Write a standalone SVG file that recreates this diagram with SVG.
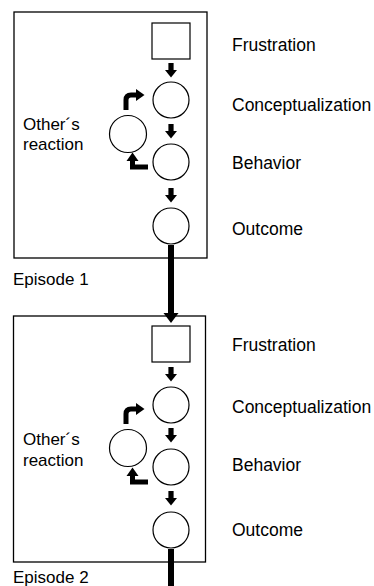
<svg xmlns="http://www.w3.org/2000/svg" width="374" height="586" viewBox="0 0 374 586">
<style>
.box{fill:#fff;stroke:#000;stroke-width:1.3}
.node{fill:#fff;stroke:#000;stroke-width:1.2}
.lbl{font-family:"Liberation Sans",Arial,sans-serif;font-size:17px;fill:#000}
.rl{font-size:17.5px}
.sh{fill:none;stroke:#000;stroke-width:5}
.hd{fill:#000}
.thick{fill:none;stroke:#000;stroke-width:6}
</style>
<defs>
<g id="down"><rect x="-2.6" y="0" width="5.2" height="8"/><polygon points="-6,7 6,7 0,14.5"/></g>
</defs>
<rect id="episode1-box" class="box" x="14" y="12" width="193" height="246"/>
<rect id="episode2-box" class="box" x="13.5" y="316" width="192" height="246"/>
<g id="connectors">
<line class="thick" x1="171" y1="245" x2="171" y2="314"/>
<polygon class="hd" points="163.5,313 178.5,313 171,323"/>
<line class="thick" x1="171" y1="549" x2="171" y2="586"/>
<use href="#down" x="171" y="63"/>
<use href="#down" x="171" y="124"/>
<use href="#down" x="171" y="188"/>
<path class="sh" d="M126,110 V100 Q126,95 131,95 H137"/>
<polygon class="hd" points="136,89 144.5,95 136,101"/>
<path class="sh" d="M148,167 H132.5 V160"/>
<polygon class="hd" points="126.5,161 132.5,152.5 138.5,161"/>
<use href="#down" x="171" y="367"/>
<use href="#down" x="171" y="428"/>
<use href="#down" x="171" y="491"/>
<path class="sh" d="M126,424 V414 Q126,409 131,409 H137"/>
<polygon class="hd" points="136,403 144.5,409 136,415"/>
<path class="sh" d="M148,482 H132.5 V475"/>
<polygon class="hd" points="126.5,476 132.5,467.5 138.5,476"/>
</g>
<g id="ep1-frustration"><rect class="node" x="152" y="23" width="38" height="36"/><text class="lbl rl" x="232" y="51">Frustration</text></g>
<g id="ep1-conceptualization"><circle class="node" cx="171" cy="100" r="18"/><text class="lbl rl" x="232" y="111">Conceptualization</text></g>
<g id="ep1-behavior"><circle class="node" cx="171" cy="162" r="18"/><text class="lbl rl" x="232" y="169">Behavior</text></g>
<g id="ep1-outcome"><circle class="node" cx="171" cy="226" r="18"/><text class="lbl rl" x="232" y="235">Outcome</text></g>
<g id="ep1-other"><circle class="node" cx="128" cy="134" r="18.5"/><text class="lbl" x="23" y="130">Other´s</text><text class="lbl" x="23" y="150">reaction</text></g>
<g id="ep1-label"><text class="lbl" x="13" y="285">Episode 1</text></g>
<g id="ep2-frustration"><rect class="node" x="152" y="326" width="38" height="36"/><text class="lbl rl" x="232" y="351">Frustration</text></g>
<g id="ep2-conceptualization"><circle class="node" cx="171" cy="405" r="18"/><text class="lbl rl" x="232" y="413">Conceptualization</text></g>
<g id="ep2-behavior"><circle class="node" cx="171" cy="467" r="18"/><text class="lbl rl" x="232" y="471">Behavior</text></g>
<g id="ep2-outcome"><circle class="node" cx="171" cy="530" r="18"/><text class="lbl rl" x="232" y="536">Outcome</text></g>
<g id="ep2-other"><circle class="node" cx="128" cy="448" r="18.5"/><text class="lbl" x="23" y="445">Other´s</text><text class="lbl" x="23" y="466">reaction</text></g>
<g id="ep2-label"><text class="lbl" x="13" y="583">Episode 2</text></g>
</svg>
